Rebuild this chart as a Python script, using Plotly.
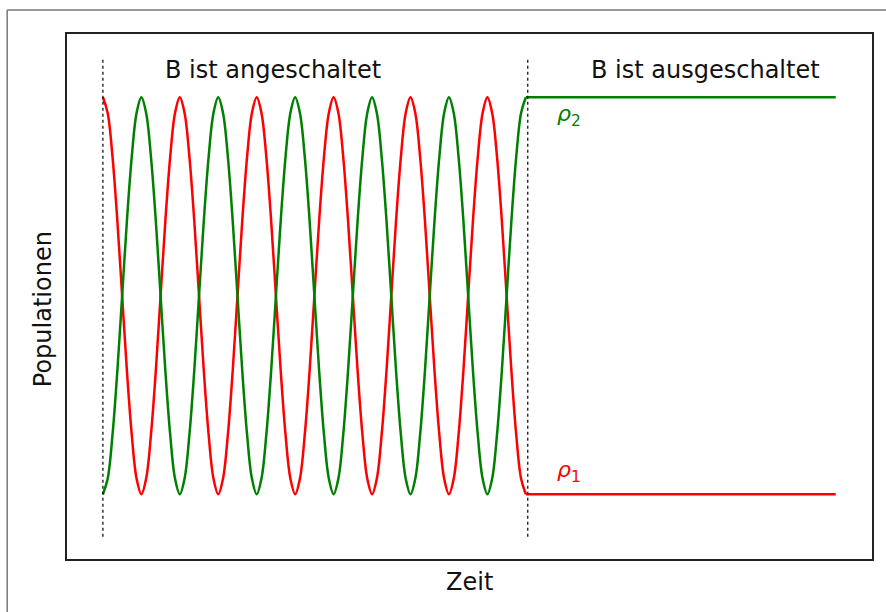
import plotly.graph_objects as go

# --- data (time in units of half Rabi periods, populations 0..1) ---
# driven phase (B on): samples every 1/8 half period
time = [0, 0.125, 0.25, 0.375, 0.5, 0.625, 0.75, 0.875, 1, 1.125, 1.25, 1.375, 1.5, 1.625, 1.75, 1.875,
        2, 2.125, 2.25, 2.375, 2.5, 2.625, 2.75, 2.875, 3, 3.125, 3.25, 3.375, 3.5, 3.625, 3.75, 3.875,
        4, 4.125, 4.25, 4.375, 4.5, 4.625, 4.75, 4.875, 5, 5.125, 5.25, 5.375, 5.5, 5.625, 5.75, 5.875,
        6, 6.125, 6.25, 6.375, 6.5, 6.625, 6.75, 6.875, 7, 7.125, 7.25, 7.375, 7.5, 7.625, 7.75, 7.875,
        8, 8.125, 8.25, 8.375, 8.5, 8.625, 8.75, 8.875, 9, 9.125, 9.25, 9.375, 9.5, 9.625, 9.75, 9.875,
        10, 10.125, 10.25, 10.375, 10.5, 10.625, 10.75, 10.875, 11]
rho1 = [1, 0.96, 0.85, 0.69, 0.5, 0.31, 0.15, 0.04, 0, 0.04, 0.15, 0.31, 0.5, 0.69, 0.85, 0.96,
        1, 0.96, 0.85, 0.69, 0.5, 0.31, 0.15, 0.04, 0, 0.04, 0.15, 0.31, 0.5, 0.69, 0.85, 0.96,
        1, 0.96, 0.85, 0.69, 0.5, 0.31, 0.15, 0.04, 0, 0.04, 0.15, 0.31, 0.5, 0.69, 0.85, 0.96,
        1, 0.96, 0.85, 0.69, 0.5, 0.31, 0.15, 0.04, 0, 0.04, 0.15, 0.31, 0.5, 0.69, 0.85, 0.96,
        1, 0.96, 0.85, 0.69, 0.5, 0.31, 0.15, 0.04, 0, 0.04, 0.15, 0.31, 0.5, 0.69, 0.85, 0.96,
        1, 0.96, 0.85, 0.69, 0.5, 0.31, 0.15, 0.04, 0]
rho2 = [0, 0.04, 0.15, 0.31, 0.5, 0.69, 0.85, 0.96, 1, 0.96, 0.85, 0.69, 0.5, 0.31, 0.15, 0.04,
        0, 0.04, 0.15, 0.31, 0.5, 0.69, 0.85, 0.96, 1, 0.96, 0.85, 0.69, 0.5, 0.31, 0.15, 0.04,
        0, 0.04, 0.15, 0.31, 0.5, 0.69, 0.85, 0.96, 1, 0.96, 0.85, 0.69, 0.5, 0.31, 0.15, 0.04,
        0, 0.04, 0.15, 0.31, 0.5, 0.69, 0.85, 0.96, 1, 0.96, 0.85, 0.69, 0.5, 0.31, 0.15, 0.04,
        0, 0.04, 0.15, 0.31, 0.5, 0.69, 0.85, 0.96, 1, 0.96, 0.85, 0.69, 0.5, 0.31, 0.15, 0.04,
        0, 0.04, 0.15, 0.31, 0.5, 0.69, 0.85, 0.96, 1]
# free phase (B off): populations stay constant
time_off = [11, 19.06]
rho1_off = [0, 0]
rho2_off = [1, 1]

switch_times = [0, 11.05]
marker_span = [-0.107, 1.095]
phase_labels = ["B ist angeschaltet", "B ist ausgeschaltet"]
phase_label_x = [4.43, 15.66]
phase_label_y = 1.069
curve_labels = ["<i>ρ</i><sub>1</sub>", "<i>ρ</i><sub>2</sub>"]
curve_label_x = [12.12, 12.12]
curve_label_y = [0.058, 0.953]

FONT = "DejaVu Sans"
RED = "#ff0000"
GREEN = "#008000"
LW = 2.5

fig = go.Figure()
for xs, ys, col, shape in [(time, rho1, RED, "spline"), (time, rho2, GREEN, "spline"),
                           (time_off, rho1_off, RED, "linear"), (time_off, rho2_off, GREEN, "linear")]:
    fig.add_trace(go.Scatter(x=xs, y=ys, mode="lines",
                             line=dict(color=col, width=LW, shape=shape),
                             hoverinfo="skip", showlegend=False))
for t in switch_times:
    fig.add_trace(go.Scatter(x=[t, t], y=marker_span, mode="lines",
                             line=dict(color="black", width=1.2, dash="dot"),
                             hoverinfo="skip", showlegend=False))

for txt, xv in zip(phase_labels, phase_label_x):
    fig.add_annotation(x=xv, y=phase_label_y, text=txt, showarrow=False,
                       xanchor="center", yanchor="middle",
                       font=dict(family=FONT, size=24, color="#111"))
for txt, xv, yv, col in zip(curve_labels, curve_label_x, curve_label_y, [RED, GREEN]):
    fig.add_annotation(x=xv, y=yv, text=txt, showarrow=False,
                       xanchor="center", yanchor="middle",
                       font=dict(family=FONT, size=22, color=col))

fig.add_annotation(xref="paper", yref="paper", x=0.4995, y=-0.043, text="Zeit",
                   showarrow=False, xanchor="center", yanchor="middle",
                   font=dict(family=FONT, size=24, color="#111"))
fig.add_annotation(xref="paper", yref="paper", x=-0.0297, y=0.476, text="Populationen",
                   showarrow=False, xanchor="center", yanchor="middle", textangle=-90,
                   font=dict(family=FONT, size=24, color="#111"))

# outer figure frame (left and top edges visible)
fig.add_shape(type="line", xref="paper", yref="paper", x0=-0.0743, x1=-0.0743,
              y0=-0.2, y1=1.0457, line=dict(color="#777", width=1.5))
fig.add_shape(type="line", xref="paper", yref="paper", x0=-0.0743, x1=1.1,
              y0=1.0457, y1=1.0457, line=dict(color="#777", width=1.5))

fig.update_xaxes(range=[-0.934, 20.003], showticklabels=False, ticks="", showgrid=False,
                 zeroline=False, showline=True, mirror=True, linecolor="#222", linewidth=1.5)
fig.update_yaxes(range=[-0.163, 1.1594], showticklabels=False, ticks="", showgrid=False,
                 zeroline=False, showline=True, mirror=True, linecolor="#222", linewidth=1.5)
fig.update_layout(width=886, height=612, margin=dict(l=67, r=12, t=34, b=53),
                  plot_bgcolor="white", paper_bgcolor="white",
                  font=dict(family=FONT))
fig.write_html("out.html")
